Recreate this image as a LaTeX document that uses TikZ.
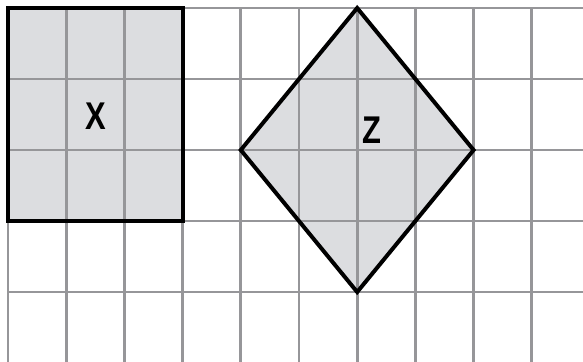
\documentclass[tikz,border=0pt]{standalone}
\usepackage{fontspec}
\setsansfont{Liberation Sans}
\usetikzlibrary{positioning}
\definecolor{shapefill}{RGB}{220,221,224}
\definecolor{gridgray}{RGB}{150,150,153}
\begin{document}
\begin{tikzpicture}[x=1.746cm,y=-2.13cm]
\tikzstyle{gridline}=[draw=gridgray,line width=2.5pt]
\tikzstyle{outline}=[draw=black,line width=3.4pt,line join=miter]
\tikzstyle{letter}=[font=\sffamily\bfseries\fontsize{33}{33}\selectfont,xscale=0.8,inner sep=0pt]
\useasboundingbox (-0.137,-0.113) rectangle (9.880,4.972);
\clip (-0.137,-0.113) rectangle (9.880,4.972);
% shaded figures
\coordinate (top) at (6,0);
\coordinate (left) at (4,2);
\coordinate (right) at (8,2);
\coordinate (bottom) at (6,4);
\fill [shapefill] (0,0) rectangle (3,3);
\fill [shapefill] (top) -- (right) -- (bottom) -- (left) -- cycle;
% grid
\foreach \i in {0,...,10}
  \draw [gridline] (\i,0) -- (\i,5.2);
\foreach \j in {0,...,5}
  \draw [gridline] (0,\j) -- (10.2,\j);
% outlines
\draw [outline] (0,0) rectangle (3,3);
\draw [outline] (top) -- (right) -- (bottom) -- (left) -- cycle;
\node [letter] (X) at (1.51,1.53) {X};
\node [letter] (Z) at (6.26,1.72) {Z};
\end{tikzpicture}
\end{document}
